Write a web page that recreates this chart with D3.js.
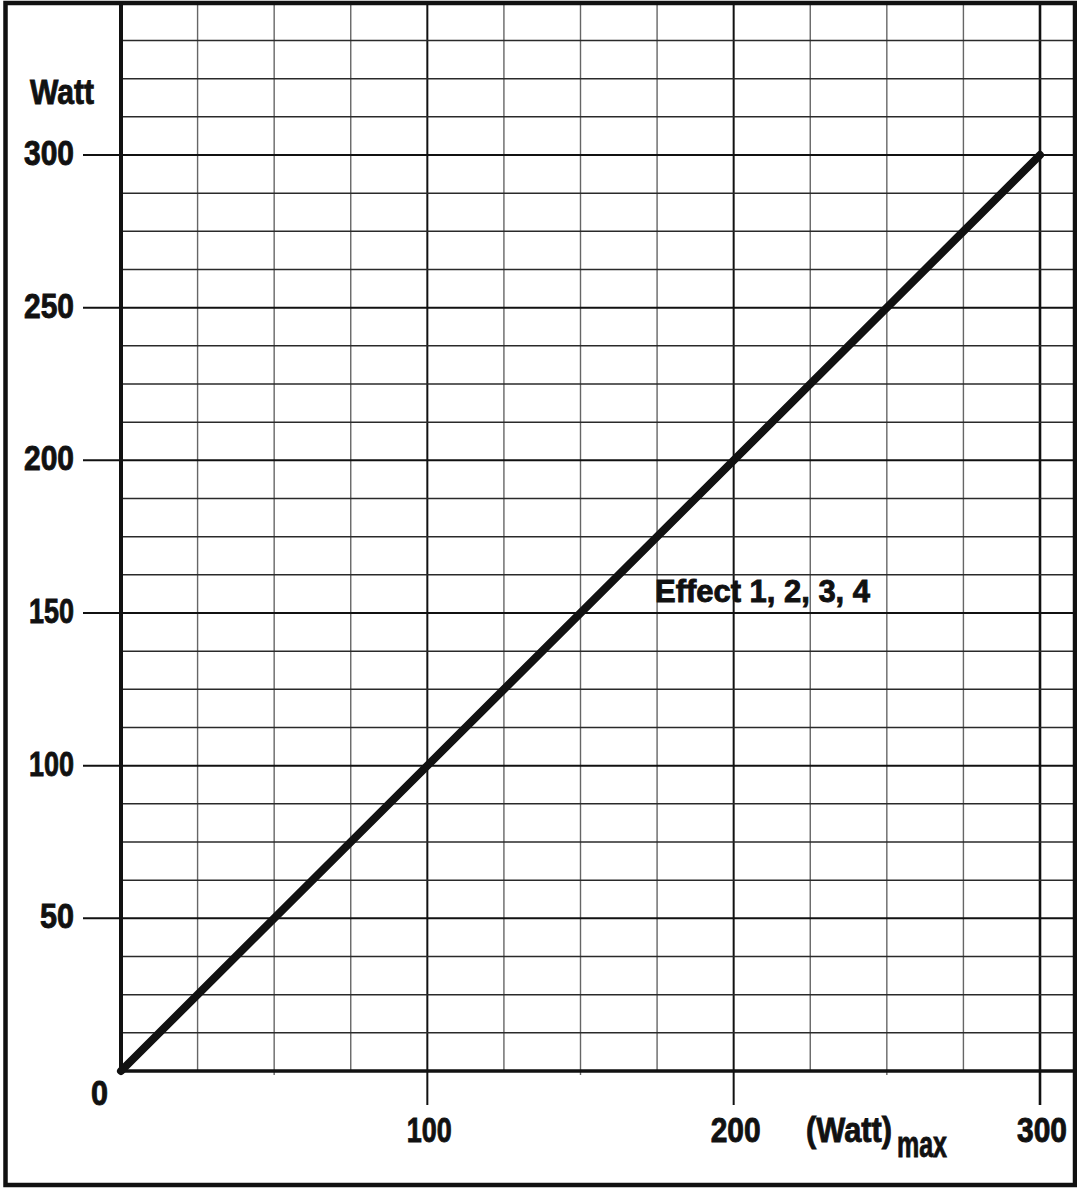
<!DOCTYPE html>
<head>
  <meta charset="utf-8">
  <script src="https://d3js.org/d3.v7.min.js"></script>
  <style>
    body { margin:0; background:white; }
    text {
      font-family: 'Liberation Sans', Arial, sans-serif;
      font-weight: 700;
      fill: #111;
      stroke: #111;
      stroke-width: 0.9px;
    }
    .tick { font-size: 35px; }
    .note { font-size: 31px; }
  </style>
</head>
<body>
<script>
  // chart data
  const effectX = [0, 300];
  const effectY = [0, 300];
  const effectLabel = 'Effect 1, 2, 3, 4';
  const xTickValues = [100, 200, 300];
  const yTickValues = [50, 100, 150, 200, 250, 300];
  const xGridValues = d3.range(25, 301, 25);
  const yGridValues = d3.range(12.5, 340, 12.5);

  const W = 1077, H = 1188;
  const svg = d3.select('body').append('svg')
      .attr('width', W).attr('height', H);

  // scales (0 sits at the axis corner)
  const x = d3.scaleLinear().domain([0, 300]).range([121, 1040]);
  const y = d3.scaleLinear().domain([0, 300]).range([1071, 155]);

  const frameRight = 1075, frameTop = 3;

  // the original lettering is a condensed bold face, squeeze to measured widths
  const labelWidth = d => String(d).length === 1 ? 17 : (String(d).length === 2 ? 34 : (String(d)[0] === '1' ? 45 : 50));

  // vertical grid
  svg.append('g').selectAll('line')
    .data(xGridValues)
    .enter().append('line')
    .attr('x1', d => x(d)).attr('x2', d => x(d))
    .attr('y1', frameTop)
    .attr('y2', d => d % 100 === 0 ? 1105 : (d % 50 === 0 ? 1075 : y(0)))
    .style('stroke', d => d % 100 === 0 ? '#111' : '#666')
    .style('stroke-width', d => d === 300 ? 2.6 : (d % 100 === 0 ? 2 : 1.4));

  // horizontal grid
  svg.append('g').selectAll('line')
    .data(yGridValues)
    .enter().append('line')
    .attr('x1', d => d % 50 === 0 ? 83 : x(0))
    .attr('x2', frameRight)
    .attr('y1', d => y(d)).attr('y2', d => y(d))
    .style('stroke', d => d % 50 === 0 ? '#111' : '#2a2a2a')
    .style('stroke-width', d => d % 50 === 0 ? 2 : 1.5);

  // axes
  svg.append('line')
    .attr('x1', x(0)).attr('x2', x(0))
    .attr('y1', frameTop).attr('y2', y(0) + 2)
    .style('stroke', '#111').style('stroke-width', 4);
  svg.append('line')
    .attr('x1', x(0)).attr('x2', frameRight)
    .attr('y1', y(0)).attr('y2', y(0))
    .style('stroke', '#111').style('stroke-width', 3.5);

  // effect line
  svg.append('path')
    .datum(effectX.map((d, i) => [d, effectY[i]]))
    .attr('d', d3.line().x(d => x(d[0])).y(d => y(d[1])))
    .style('fill', 'none')
    .style('stroke', '#111')
    .style('stroke-width', 8)
    .style('stroke-linecap', 'round');

  // tick labels
  svg.append('g').selectAll('text')
    .data(yTickValues)
    .enter().append('text')
    .classed('tick', true)
    .attr('x', d => 74 - labelWidth(d))
    .attr('y', d => y(d) + 10)
    .attr('textLength', labelWidth)
    .attr('lengthAdjust', 'spacingAndGlyphs')
    .text(d => d);

  svg.append('g').selectAll('text')
    .data(xTickValues)
    .enter().append('text')
    .classed('tick', true)
    .attr('x', d => x(d) + 2 - labelWidth(d) / 2)
    .attr('y', 1142)
    .attr('textLength', labelWidth)
    .attr('lengthAdjust', 'spacingAndGlyphs')
    .text(d => d);

  svg.append('text').classed('tick', true)
    .attr('x', 91).attr('y', 1105)
    .attr('textLength', 17).attr('lengthAdjust', 'spacingAndGlyphs')
    .text('0');

  svg.append('text').classed('tick', true)
    .attr('x', 30).attr('y', 104)
    .attr('textLength', 64).attr('lengthAdjust', 'spacingAndGlyphs')
    .text('Watt');

  // axis unit with subscript
  svg.append('text').classed('tick', true)
    .attr('x', 806).attr('y', 1142)
    .attr('textLength', 86).attr('lengthAdjust', 'spacingAndGlyphs')
    .text('(Watt)');
  svg.append('text').classed('tick', true)
    .style('font-size', '37px')
    .attr('x', 897).attr('y', 1157)
    .attr('textLength', 50).attr('lengthAdjust', 'spacingAndGlyphs')
    .text('max');

  svg.append('text').classed('note', true)
    .attr('x', 655).attr('y', 602)
    .attr('textLength', 215).attr('lengthAdjust', 'spacingAndGlyphs')
    .text(effectLabel);

  // outer frame
  svg.append('rect')
    .attr('x', 5.5).attr('y', frameTop)
    .attr('width', frameRight - 5.5).attr('height', 1182)
    .style('fill', 'none')
    .style('stroke', '#111')
    .style('stroke-width', 4.5);
</script>
</body>
